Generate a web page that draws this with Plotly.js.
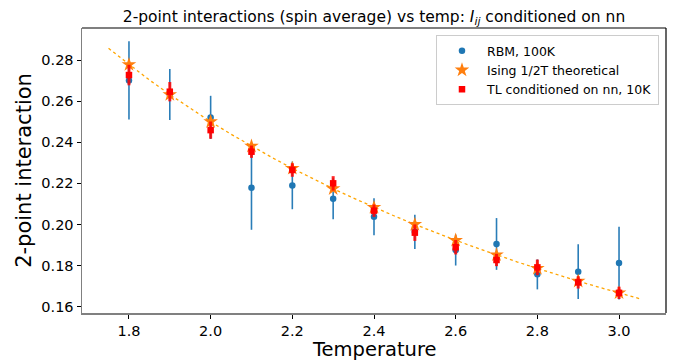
<!DOCTYPE html>
<html><head><meta charset="utf-8">
<script src="https://cdn.plot.ly/plotly-3.0.1.min.js"></script>
<style>html,body{margin:0;padding:0;background:#fff}#chart{width:674px;height:360px}</style>
</head><body><div id="chart"></div>
<script>
const temps = [1.8,1.9,2.0,2.1,2.2,2.3,2.4,2.5,2.6,2.7,2.8,2.9,3.0];
const rbm = [0.2701,0.2632,0.2521,0.2179,0.2190,0.2125,0.2037,0.1964,0.1875,0.1905,0.1757,0.1770,0.1812];
const rbmErr = [0.0190,0.0124,0.0105,0.0205,0.0116,0.0100,0.0090,0.0083,0.0075,0.0126,0.0073,0.0133,0.0177];
const ising = [0.2778,0.2632,0.2500,0.2381,0.2273,0.2174,0.2083,0.2000,0.1923,0.1852,0.1786,0.1724,0.1667];
const tl = [0.2727,0.2646,0.2459,0.2354,0.2265,0.2200,0.2067,0.1960,0.1889,0.1827,0.1791,0.1718,0.1667];
const tlErr = [0.0050,0.0047,0.0042,0.0030,0.0033,0.0035,0.0030,0.0040,0.0035,0.0030,0.0038,0.0030,0.0030];
const curveT = [1.75,1.80,1.85,1.90,1.95,2.00,2.05,2.10,2.15,2.20,2.25,2.30,2.35,2.40,2.45,2.50,2.55,2.60,2.65,2.70,2.75,2.80,2.85,2.90,2.95,3.00,3.05];
const curveV = [0.2857,0.2778,0.2703,0.2632,0.2564,0.2500,0.2439,0.2381,0.2326,0.2273,0.2222,0.2174,0.2128,0.2083,0.2041,0.2000,0.1961,0.1923,0.1887,0.1852,0.1818,0.1786,0.1754,0.1724,0.1695,0.1667,0.1639];
const xTicks = [1.8,2.0,2.2,2.4,2.6,2.8,3.0];
const xTickText = ['1.8','2.0','2.2','2.4','2.6','2.8','3.0'];
const yTicks = [0.16,0.18,0.20,0.22,0.24,0.26,0.28];
const yTickText = ['0.16','0.18','0.20','0.22','0.24','0.26','0.28'];

const font = 'DejaVu Sans, sans-serif';
const traces = [
  {x: curveT, y: curveV, mode:'lines', line:{color:'#ffa500', dash:'dot', width:1.3}, showlegend:false, hoverinfo:'skip'},
  {x: temps, y: rbm, mode:'markers', name:'RBM, 100K',
   marker:{color:'#1f77b4', size:6.5, symbol:'circle'},
   error_y:{type:'data', array:rbmErr, visible:true, color:'#2a7db8', thickness:1.6, width:0}},
  {x: temps, y: ising, mode:'markers', name:'Ising 1/2T theoretical',
   marker:{color:'#ff7f0e', size:11, symbol:'star'}},
  {x: temps, y: tl, mode:'markers', name:'TL conditioned on nn, 10K',
   marker:{color:'#ff0000', size:6.5, symbol:'square'},
   error_y:{type:'data', array:tlErr, visible:true, color:'rgba(255,0,0,0.85)', thickness:3, width:0}}
];
const layout = {
  width:674, height:360,
  margin:{l:82, r:8, t:28, b:47},
  paper_bgcolor:'#fff', plot_bgcolor:'#fff',
  font:{family:font, color:'#000'},
  title:{text:'2-point interactions (spin average) vs temp: <i>I<sub>ij</sub></i> conditioned on nn', font:{family:font, size:15.5, color:'#000'}, x:0.5, xref:'paper', xanchor:'center', y:0.955, yref:'container', yanchor:'middle'},
  xaxis:{range:[1.685,3.115], tickvals:xTicks, ticktext:xTickText, ticks:'outside', ticklen:4, tickwidth:1, tickcolor:'#000',
    showgrid:false, zeroline:false, showline:true, linecolor:'#808080', linewidth:1.5, mirror:false,
    tickfont:{family:font, size:14.5, color:'#000'}},
  yaxis:{range:[0.1569,0.2956], tickvals:yTicks, ticktext:yTickText, ticks:'outside', ticklen:4, tickwidth:1, tickcolor:'#000',
    showgrid:false, zeroline:false, showline:true, linecolor:'#808080', linewidth:1.5, mirror:false,
    tickfont:{family:font, size:14.5, color:'#000'},
    title:{text:'2-point interaction', font:{family:font, size:21, color:'#000'}, standoff:4}},
  annotations:[
    {text:'Temperature', xref:'paper', yref:'paper', x:0.5, y:-0.128, xanchor:'center', yanchor:'middle', showarrow:false,
     font:{family:font, size:19.5, color:'#000'}}
  ],
  shapes:[
    {type:'line', xref:'paper', yref:'paper', x0:0, x1:1, y0:1, y1:1, line:{color:'#000', width:1.2}},
    {type:'line', xref:'paper', yref:'paper', x0:1, x1:1, y0:0, y1:1, line:{color:'#000', width:1.2}}
  ],
  legend:{x:0.988, xanchor:'right', y:0.975, yanchor:'top', bgcolor:'rgba(255,255,255,0.8)', bordercolor:'#cccccc', borderwidth:1,
    font:{family:font, size:12.5, color:'#000'}, tracegroupgap:0, itemwidth:40},
  showlegend:true
};
Plotly.newPlot('chart', traces, layout, {displayModeBar:false, staticPlot:true});
</script></body></html>
